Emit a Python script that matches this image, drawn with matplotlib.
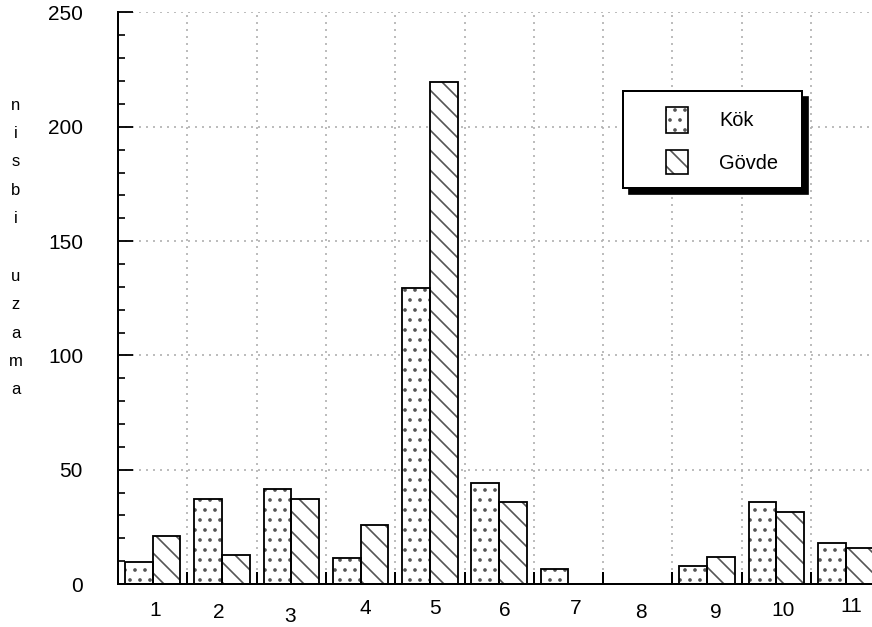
import matplotlib
matplotlib.use("Agg")
import matplotlib.pyplot as plt
import matplotlib.transforms as mtransforms
from matplotlib.patches import Rectangle
from matplotlib.ticker import MultipleLocator, FixedLocator
import numpy as np

# ── Data ──────────────────────────────────────────────────────────────────────
GROUPS = ["1", "2", "3", "4", "5", "6", "7", "8", "9", "10", "11"]
KOK = [9.6, 37.3, 41.7, 11.2, 129.4, 44.0, 6.7, 0, 7.9, 35.8, 17.8]
GOVDE = [21.0, 12.5, 37.3, 25.9, 219.5, 35.7, 0, 0, 11.8, 31.5, 15.6]
YLABEL = ["n", "i", "s", "b", "i", "", "u", "z", "a", "m", "a"]

# small jitter of the category labels in the original (pixels)
LABEL_DX = [3, -3, -1, 5, 5, 6, 7, 3, 9, 7, 6]
LABEL_DY = [27, 28, 33, 25, 24, 27, 24, 29, 29, 26, 22]

DPI = 120
W, H = 872, 627
FONT = ["Liberation Sans", "DejaVu Sans"]

plt.rcParams["hatch.linewidth"] = 1.0

fig = plt.figure(figsize=(W / DPI, H / DPI), dpi=DPI)
ax = fig.add_axes([118 / W, 43 / H, (W - 118) / W, 571.5 / H])

x = np.arange(1, len(GROUPS) + 1)
bw = 0.4
HATCH_GREY = "#555555"

# hatch layer (grey pattern), then black outline on top
ax.bar(x - bw / 2, KOK, bw, color="white", edgecolor=HATCH_GREY,
       hatch="..", linewidth=0, zorder=2)
ax.bar(x + bw / 2, GOVDE, bw, color="white", edgecolor=HATCH_GREY,
       hatch="\\\\", linewidth=0, zorder=2)
ax.bar(x - bw / 2, KOK, bw, fill=False, edgecolor="black", linewidth=1.1, zorder=3)
ax.bar(x + bw / 2, GOVDE, bw, fill=False, edgecolor="black", linewidth=1.1, zorder=3)

ax.set_xlim(0.5, 11.38)
ax.set_ylim(0, 250)

# ── axes, ticks, grid ─────────────────────────────────────────────────────────
for s in ("top", "right"):
    ax.spines[s].set_visible(False)
for s in ("left", "bottom"):
    ax.spines[s].set_linewidth(1.2)

ax.yaxis.set_major_locator(MultipleLocator(50))
ax.yaxis.set_minor_locator(MultipleLocator(10))
ax.tick_params(axis="y", which="major", direction="in", length=9, width=1.1,
               pad=21, labelsize=12.5)
ax.tick_params(axis="y", which="minor", direction="in", length=4, width=1.0)
for lab in ax.get_yticklabels():
    lab.set_family(FONT)

ax.xaxis.set_major_locator(FixedLocator(x))
ax.xaxis.set_minor_locator(FixedLocator(x[:-1] + 0.5))
ax.set_xticklabels([])
ax.tick_params(axis="x", which="major", length=0)
ax.tick_params(axis="x", which="minor", direction="in", length=7, width=1.2)

grid_kw = dict(color="#b0b0b0", linestyle=(0, (1.2, 3)), linewidth=1.0, zorder=0)
ax.grid(True, axis="y", which="major", **grid_kw)
ax.grid(True, axis="x", which="minor", **grid_kw)
ax.set_axisbelow(True)

# category labels with their little offsets
for xi, g, dx, dy in zip(x, GROUPS, LABEL_DX, LABEL_DY):
    off = mtransforms.ScaledTranslation(dx / DPI, -dy / DPI, fig.dpi_scale_trans)
    ax.text(xi, 0, g, transform=ax.transData + off, ha="center", va="center",
            fontsize=12.5, family=FONT)

# stacked y label "nisbi uzama"
for k, ch in enumerate(YLABEL):
    fig.text(16 / W, 1 - (105 + k * 28.5) / H, ch, ha="center", va="center",
             fontsize=10, family=FONT)

# ── legend box with hard black shadow ─────────────────────────────────────────
def fbox(x0, y0, x1, y1):
    return (x0 / W, 1 - y1 / H), (x1 - x0) / W, (y1 - y0) / H

(bx, by), bwid, bhei = fbox(623, 91, 802, 188)
(sx, sy), _, _ = fbox(629, 97, 808, 194)
fig.add_artist(Rectangle((sx, sy), bwid, bhei, transform=fig.transFigure,
                         facecolor="black", edgecolor="black", zorder=5))
fig.add_artist(Rectangle((bx, by), bwid, bhei, transform=fig.transFigure,
                         facecolor="white", edgecolor="black", linewidth=1.2, zorder=6))

for (y0, y1), hatch, label, ty in [((107, 133), "..", "Kök", 121),
                                   ((150, 174), "\\\\", "Gövde", 163)]:
    (hx, hy), hw, hh = fbox(666, y0, 688, y1)
    fig.add_artist(Rectangle((hx, hy), hw, hh, transform=fig.transFigure,
                             facecolor="white", edgecolor=HATCH_GREY, hatch=hatch,
                             linewidth=0, zorder=7))
    fig.add_artist(Rectangle((hx, hy), hw, hh, transform=fig.transFigure,
                             fill=False, edgecolor="black", linewidth=1.0, zorder=8))
    fig.text(719 / W, 1 - ty / H, label, ha="left", va="center", fontsize=12,
             family=FONT, zorder=8)

fig.savefig("out.png", dpi=DPI)
